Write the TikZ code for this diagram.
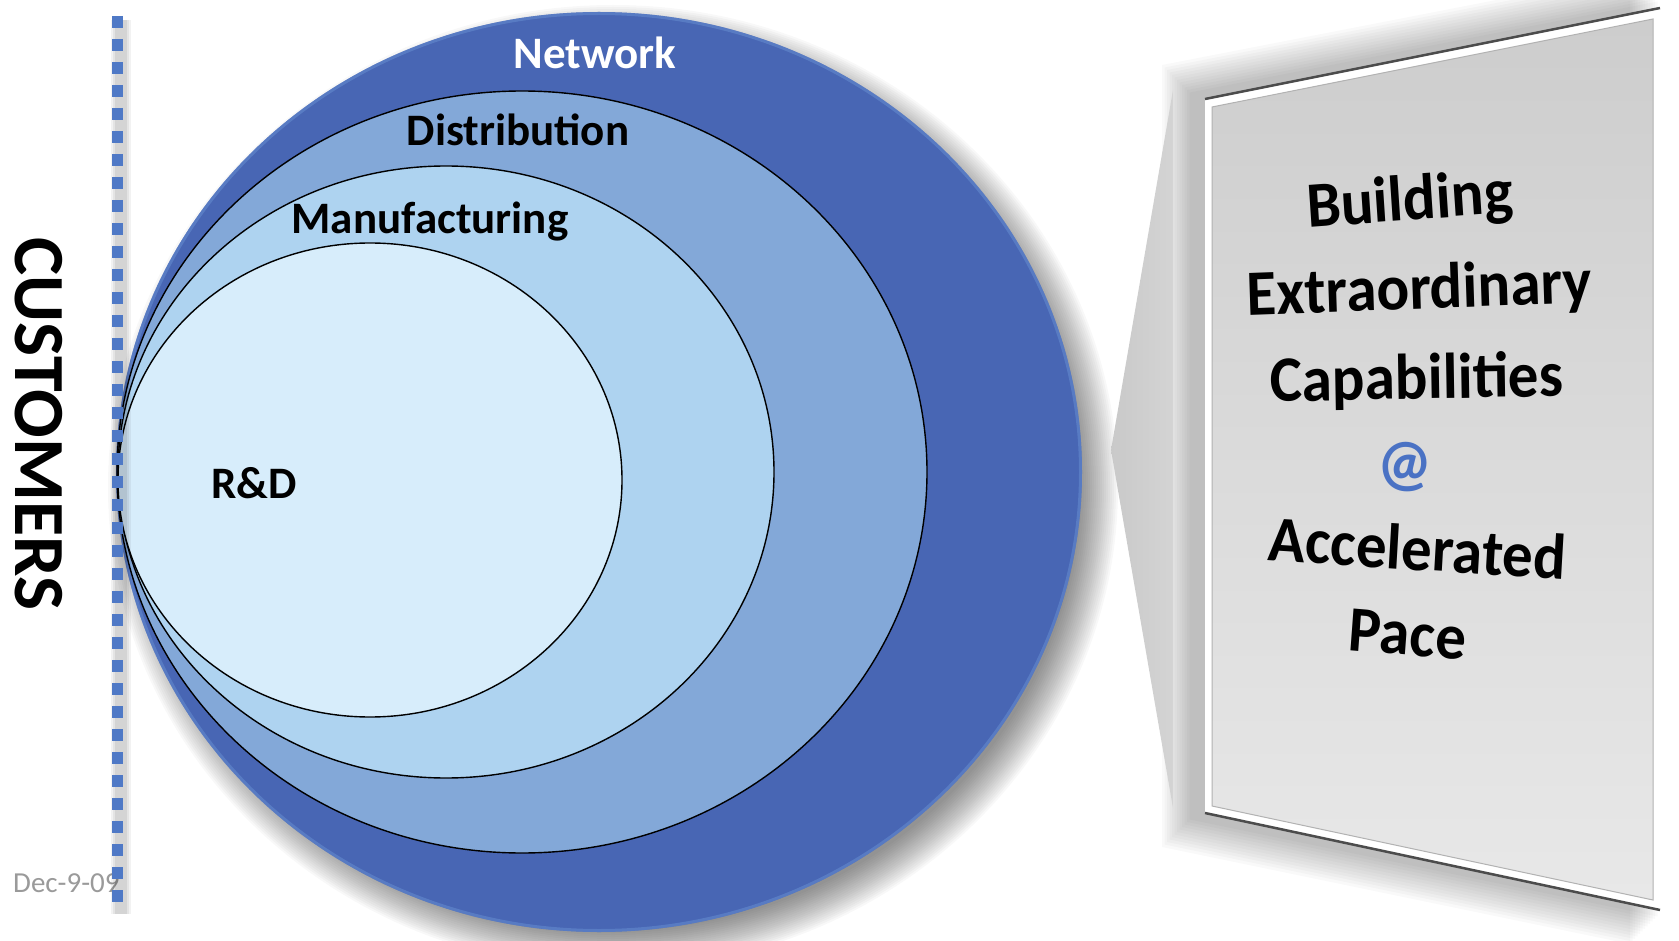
\documentclass[tikz,border=0pt]{standalone}
\usepackage{fontspec}
\setmainfont{Carlito}
\usetikzlibrary{calc}
\definecolor{netblue}{HTML}{4866B4}
\definecolor{rimblue}{HTML}{6C95D6}
\definecolor{distblue}{HTML}{83A8D8}
\definecolor{manblue}{HTML}{AED3F0}
\definecolor{rdblue}{HTML}{D7EDFB}
\definecolor{dotblue}{HTML}{4F79C6}
\definecolor{atblue}{HTML}{4A72C4}
\definecolor{datgray}{HTML}{9A9A9A}
\definecolor{panlo}{HTML}{E8E8E8}
\definecolor{panhi}{HTML}{CDCDCD}
\definecolor{callgray}{HTML}{C9C9C9}
\tikzset{
  lbl/.style={font=\bfseries\fontsize{45}{45}\selectfont, inner sep=0pt, anchor=base},
  pantxt/.style={font=\bfseries\fontsize{61}{61}\selectfont, inner sep=0pt, anchor=base, yscale=1.06},
  ring/.style={draw=black, line width=1.4pt}
}
\begin{document}
\begin{tikzpicture}[x=1pt,y=-1pt]
\useasboundingbox (0,0) rectangle (1679,941);
% circle drop shadow
\foreach \i in {0,...,19} {
  \fill[black, opacity=0.028] (613,487) ellipse [x radius={505-2*\i}, y radius={482-2*\i}];
}
% panel shadow
\foreach \i in {0,...,11} {
  \fill[black, opacity=0.025] ({1192-30+2.5*\i},{95-30+2.5*\i}) -- ({1660-30+2.5*\i},{4-30+2.5*\i}) -- ({1660-30+2.5*\i},{914+30-2.5*\i}) -- ({1192-30+2.5*\i},{817+30-2.5*\i}) -- cycle;
}
% callout
\shade[left color=callgray, right color=callgray!80!white] (1111,450) -- (1173,90) -- (1173,808) -- cycle;
% network
\fill[netblue] (599,472) ellipse [x radius=483, y radius=460];
\draw[rimblue, line width=3pt, opacity=0.45] (599,472) ellipse [x radius=481.5, y radius=458.5];
% inner rings
\filldraw[ring, fill=distblue] (522,472) ellipse [x radius=405, y radius=381];
\filldraw[ring, fill=manblue] (446,472) ellipse [x radius=328, y radius=306];
\filldraw[ring, fill=rdblue] (370,480) ellipse [x radius=252, y radius=237];
% labels
\node[lbl, text=white] (net) at (595,69) {Network};
\node[lbl] (dist) at (518,146) {Distribution};
\node[lbl] (man) at (430,234) {Manufacturing};
\node[lbl] (rd) at (254,498) {R\&D};
% customers
\node[font=\bfseries\fontsize{72}{72}\selectfont, rotate=-90, inner sep=0pt] (cust) at (39,424) {CUSTOMERS};
% date
\node[anchor=base west, inner sep=0pt, text=datgray, font=\fontsize{29}{29}\selectfont] (date) at (13,892) {Dec-9-09};
% dotted line with soft shadow
\foreach \w/\o in {20/0.05,16/0.06,12/0.07} {
  \draw[black, opacity=\o, line width=\w pt] (121,20) -- (121,914);
}
\draw[dotblue, line width=11pt, dash pattern=on 12pt off 11pt] (117,16) -- (117,908);
% panel frame
\fill[white] (1205,99) -- (1660,8) -- (1660,910) -- (1205,813) -- cycle;
\shade[top color=panhi, bottom color=panlo] (1212,107) -- (1653,19) -- (1653,900) -- (1212,806) -- cycle;
\draw[gray!60, line width=1pt] (1212,107) -- (1653,19) -- (1653,900) -- (1212,806) -- cycle;
\draw[black!70, line width=2.5pt] (1205,99) -- (1660,8);
\draw[black!70, line width=2.5pt] (1205,813) -- (1660,910);
% panel text
\node[pantxt, rotate=4] (t1) at (1411,220) {Building};
\node[pantxt, rotate=2] (t2) at (1420,309) {Extraordinary};
\node[pantxt, rotate=1] (t3) at (1417,399) {Capabilities};
\node[pantxt, text=atblue] (t4) at (1405,484) {@};
\node[pantxt, rotate=-3.5] (t5) at (1416,570) {Accelerated};
\node[pantxt, rotate=-4.5] (t6) at (1406,655) {Pace};
\end{tikzpicture}
\end{document}
